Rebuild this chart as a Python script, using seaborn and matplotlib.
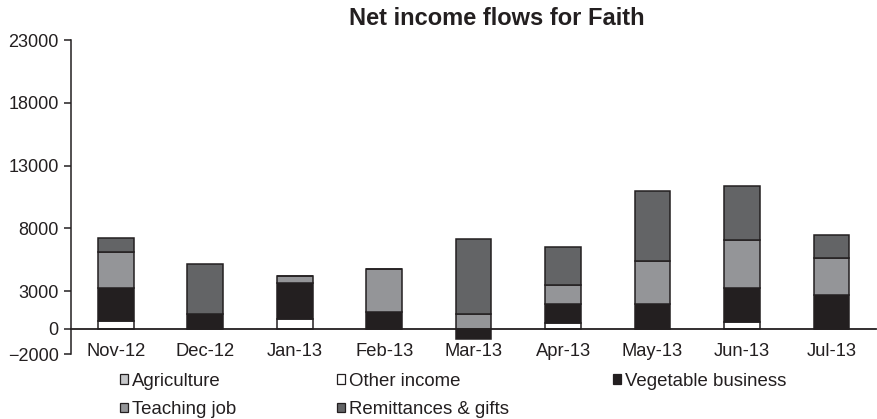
import matplotlib
matplotlib.use("Agg")
import matplotlib.pyplot as plt
from matplotlib.patches import Patch
import numpy as np
import pandas as pd
import seaborn as sns

# Monthly net income by source
months = ["Nov-12", "Dec-12", "Jan-13", "Feb-13", "Mar-13",
          "Apr-13", "May-13", "Jun-13", "Jul-13"]
agriculture = [0, 0, 0, 0, 0, 0, 0, 0, 0]
other_income = [640, 0, 770, 0, 0, 500, 0, 530, 0]
vegetable_business = [2600, 1170, 2890, 1330, -800, 1490, 1960, 2760, 2700]
teaching_job = [2910, 0, 560, 3470, 1170, 1510, 3470, 3770, 2950]
remittances_gifts = [1050, 4000, 0, 0, 6010, 3020, 5570, 4320, 1800]

series = [
    ("Other income", other_income, "#ffffff"),
    ("Vegetable business", vegetable_business, "#231f20"),
    ("Agriculture", agriculture, "#c6c7c9"),
    ("Teaching job", teaching_job, "#949598"),
    ("Remittances & gifts", remittances_gifts, "#636466"),
]
colors = {name: c for name, _, c in series}

sns.set_theme(style="white")
plt.rcParams["font.family"] = ["Liberation Sans", "DejaVu Sans"]

fig = plt.figure(figsize=(8.77, 4.19), dpi=100)
ax = fig.add_axes([0.081, 0.155, 0.918, 0.7495])

edge = "#231f20"
pos_base = np.zeros(len(months))
neg_base = np.zeros(len(months))
for name, values, color in series:
    vals = np.asarray(values, dtype=float)
    bottoms = np.where(vals >= 0, pos_base, neg_base)
    df = pd.DataFrame({"month": months, "value": vals})
    sns.barplot(data=df, x="month", y="value", order=months, ax=ax,
                color=color, saturation=1, errorbar=None, width=0.4,
                bottom=bottoms, edgecolor=edge, linewidth=1.1)
    pos_base = pos_base + np.where(vals > 0, vals, 0)
    neg_base = neg_base + np.where(vals < 0, vals, 0)

ax.set_ylim(-2000, 23000)
ax.set_xlim(-0.5, len(months) - 0.5)
ax.set_yticks([-2000, 0, 3000, 8000, 13000, 18000, 23000])
ax.set_yticklabels(["\u22122000", "0", "3000", "8000", "13000", "18000", "23000"])
ax.set_xlabel("")
ax.set_ylabel("")

for s in ["top", "right"]:
    ax.spines[s].set_visible(False)
ax.spines["left"].set_color(edge)
ax.spines["left"].set_linewidth(1.1)
ax.spines["bottom"].set_position(("data", 0))
ax.spines["bottom"].set_color(edge)
ax.spines["bottom"].set_linewidth(1.3)

ax.tick_params(axis="y", left=True, direction="out", length=5, width=1.1,
               color=edge, labelsize=13, labelcolor="#231f20", pad=4)
ax.tick_params(axis="x", bottom=False, length=0, labelsize=13.2,
               labelcolor="#231f20", pad=9.8)

fig.text(0.567, 0.957, "Net income flows for Faith", ha="center", va="center",
         fontsize=17, fontweight="bold", color="#231f20")

# Legend laid out as three fixed-width columns below the plot
legend_cols = [
    (120, ["Agriculture", "Teaching job"]),
    (337, ["Other income", "Remittances & gifts"]),
    (613, ["Vegetable business"]),
]
W, H = 877, 419
for x_px, names in legend_cols:
    handles = [Patch(facecolor=colors[n], edgecolor=edge, linewidth=0.9,
                     label=n) for n in names]
    fig.legend(handles=handles, loc="upper left",
               bbox_to_anchor=(x_px / W, (H - 372.5) / H),
               ncol=1, frameon=False, fontsize=13.4,
               handlelength=0.43, handleheight=0.4,
               handletextpad=0.22, labelspacing=0.62,
               borderpad=0, borderaxespad=0, labelcolor="#231f20")

fig.savefig("out.png", dpi=100)
